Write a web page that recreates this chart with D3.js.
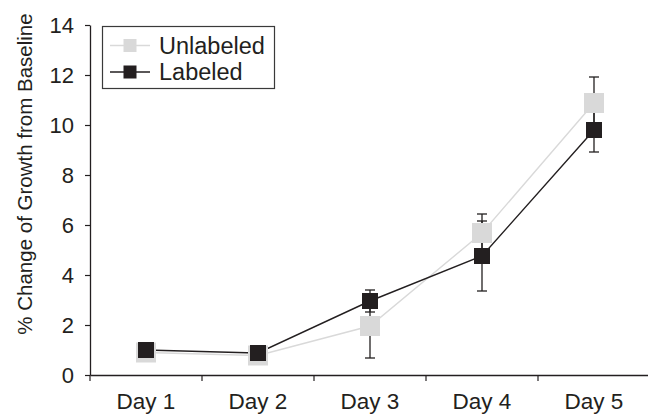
<!DOCTYPE html>
<html>
<head>
<meta charset="utf-8">
<script src="https://cdn.jsdelivr.net/npm/d3@7"></script>
<style>
  body { margin: 0; background: #fff; }
  svg { display: block; font-family: "Liberation Sans", Arial, sans-serif; }
</style>
</head>
<body>
<svg id="chart" width="648" height="417"></svg>
<script>
// ── Data ──
const days = ["Day 1", "Day 2", "Day 3", "Day 4", "Day 5"];
const unlabeled = [0.9, 0.78, 1.96, 5.68, 10.88];
const unlabeledErr = [0.1, 0.1, 1.28, 0.76, 1.04];
const labeled = [1.0, 0.88, 2.96, 4.76, 9.8];
const labeledErr = [0.1, 0.1, 0.44, 1.4, 0.88];
const yTicks = [0, 2, 4, 6, 8, 10, 12, 14];

const series = [
  { name: "Unlabeled", values: unlabeled, err: unlabeledErr, color: "#d9d9d9", size: 20, legendSize: 13 },
  { name: "Labeled",   values: labeled,   err: labeledErr,   color: "#231f20", size: 16, legendSize: 13 }
];

const INK = "#231f20";
const FONT = 22.5;

const svg = d3.select("#chart");

const x = d3.scaleBand().domain(days).range([90, 650]);
const y = d3.scaleLinear().domain([0, 14]).range([375, 25]);
const cx = d => x(d) + x.bandwidth() / 2;

// ── Y axis ──
const yAxis = svg.append("g")
  .attr("transform", "translate(90,0)")
  .call(d3.axisLeft(y).tickValues(yTicks).tickSize(5).tickPadding(11).tickSizeOuter(0));
yAxis.select(".domain").attr("stroke", INK).attr("stroke-width", 1.3);
yAxis.selectAll(".tick line").attr("stroke", INK).attr("stroke-width", 1.2);
yAxis.selectAll("text").attr("font-size", 22).attr("fill", INK).attr("font-family", null);

// ── X axis (ticks at category boundaries) ──
const xAxis = svg.append("g")
  .attr("transform", "translate(0,375)")
  .call(d3.axisBottom(x).tickSize(0).tickPadding(18).tickSizeOuter(0));
xAxis.select(".domain").attr("stroke", INK).attr("stroke-width", 1.3);
xAxis.selectAll("text").attr("font-size", FONT).attr("fill", INK).attr("font-family", null);
xAxis.selectAll(".boundary")
  .data(days)
  .join("line")
  .attr("class", "boundary")
  .attr("x1", d => x(d)).attr("x2", d => x(d))
  .attr("y1", 0).attr("y2", 6)
  .attr("stroke", INK).attr("stroke-width", 1.2);

// ── Y title ──
svg.append("text")
  .attr("transform", "translate(32,174) rotate(-90)")
  .attr("text-anchor", "middle")
  .attr("font-size", 20.5)
  .attr("fill", INK)
  .text("% Change of Growth from Baseline");

// ── Error bars (behind everything) ──
const CAP = 5;
series.forEach(s => {
  const g = svg.append("g").attr("stroke", INK).attr("stroke-width", 1.3);
  days.forEach((d, i) => {
    const lo = y(s.values[i] - s.err[i]);
    const hi = y(s.values[i] + s.err[i]);
    g.append("line").attr("x1", cx(d)).attr("x2", cx(d)).attr("y1", lo).attr("y2", hi);
    g.append("line").attr("x1", cx(d) - CAP).attr("x2", cx(d) + CAP).attr("y1", lo).attr("y2", lo);
    g.append("line").attr("x1", cx(d) - CAP).attr("x2", cx(d) + CAP).attr("y1", hi).attr("y2", hi);
  });
});

// ── Lines + markers ──
const line = d3.line().x((v, i) => cx(days[i])).y(v => y(v));
series.forEach(s => {
  svg.append("path")
    .attr("d", line(s.values))
    .attr("fill", "none")
    .attr("stroke", s.color)
    .attr("stroke-width", 1.4);
});
series.forEach(s => {
  svg.append("g").selectAll("rect")
    .data(s.values)
    .join("rect")
    .attr("x", (v, i) => cx(days[i]) - s.size / 2)
    .attr("y", v => y(v) - s.size / 2)
    .attr("width", s.size)
    .attr("height", s.size)
    .attr("fill", s.color);
});

// ── Legend ──
const legend = svg.append("g").attr("transform", "translate(102,26)");
legend.append("rect")
  .attr("x", 0.5).attr("y", 0.5)
  .attr("width", 172).attr("height", 62)
  .attr("fill", "#fff")
  .attr("stroke", "#3a3a3a")
  .attr("stroke-width", 1.2);
series.forEach((s, i) => {
  const ly = 19.5 + i * 26.5;
  legend.append("line")
    .attr("x1", 8).attr("x2", 48)
    .attr("y1", ly).attr("y2", ly)
    .attr("stroke", s.color).attr("stroke-width", 1.4);
  legend.append("rect")
    .attr("x", 28 - s.legendSize / 2).attr("y", ly - s.legendSize / 2)
    .attr("width", s.legendSize).attr("height", s.legendSize)
    .attr("fill", s.color);
  legend.append("text")
    .attr("x", 57).attr("y", ly)
    .attr("dy", "0.36em")
    .attr("font-size", 23.5)
    .attr("fill", INK)
    .text(s.name);
});
</script>
</body>
</html>
